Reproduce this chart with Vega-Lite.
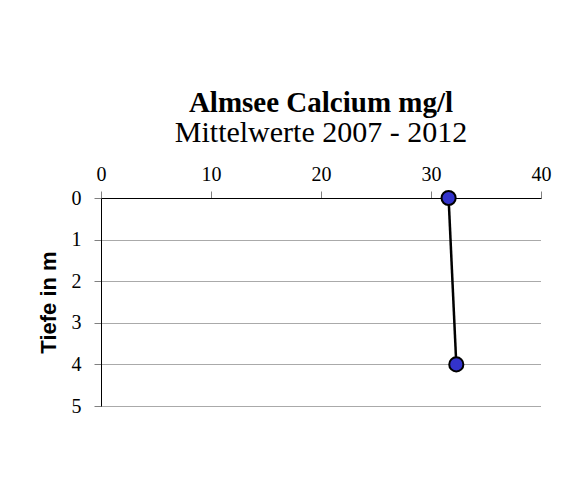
{
  "$schema": "https://vega.github.io/schema/vega-lite/v6.json",
  "width": 440,
  "height": 208,
  "autosize": "none",
  "padding": {"left": 101, "top": 198, "right": 26, "bottom": 79},
  "background": "white",
  "title": {
    "text": "Almsee Calcium mg/l",
    "subtitle": "Mittelwerte 2007 - 2012",
    "font": "Liberation Serif",
    "fontSize": 29,
    "fontWeight": "bold",
    "color": "black",
    "subtitleFont": "Liberation Serif",
    "subtitleFontSize": 30,
    "subtitleFontWeight": "normal",
    "subtitleColor": "black",
    "subtitlePadding": 0,
    "anchor": "middle",
    "frame": "group",
    "offset": 16
  },
  "data": {
    "values": [
      {"tiefe": 0, "calcium": 31.6},
      {"tiefe": 4, "calcium": 32.3}
    ]
  },
  "encoding": {
    "x": {
      "field": "calcium",
      "type": "quantitative",
      "scale": {"domain": [0, 40], "nice": false, "zero": true},
      "axis": {
        "orient": "top",
        "title": null,
        "values": [0, 10, 20, 30, 40],
        "grid": false,
        "domainColor": "black",
        "domainWidth": 1,
        "tickColor": "#808080",
        "tickSize": 7,
        "labelFont": "Liberation Serif",
        "labelFontSize": 20,
        "labelColor": "black",
        "labelPadding": 7,
        "labelFlush": false
      }
    },
    "y": {
      "field": "tiefe",
      "type": "quantitative",
      "scale": {"domain": [0, 5], "reverse": true, "nice": false},
      "axis": {
        "title": "Tiefe in m",
        "titleFont": "Liberation Sans",
        "titleFontSize": 22,
        "titleFontWeight": "bold",
        "titleColor": "black",
        "titlePadding": 11,
        "values": [0, 1, 2, 3, 4, 5],
        "grid": true,
        "gridColor": "#555555",
        "gridDash": [1, 1],
        "gridWidth": 1,
        "domainColor": "black",
        "domainWidth": 1,
        "tickColor": "#808080",
        "tickSize": 7,
        "labelFont": "Liberation Serif",
        "labelFontSize": 20,
        "labelColor": "black",
        "labelPadding": 13,
        "labelFlush": false
      }
    }
  },
  "layer": [
    {
      "mark": {"type": "line", "color": "black", "strokeWidth": 2.5},
      "encoding": {"order": {"field": "tiefe", "type": "quantitative"}}
    },
    {
      "mark": {"type": "point", "shape": "circle", "filled": true, "fill": "#3333CC", "stroke": "black", "strokeWidth": 2, "size": 200, "opacity": 1}
    }
  ],
  "config": {
    "view": {"stroke": null}
  }
}
